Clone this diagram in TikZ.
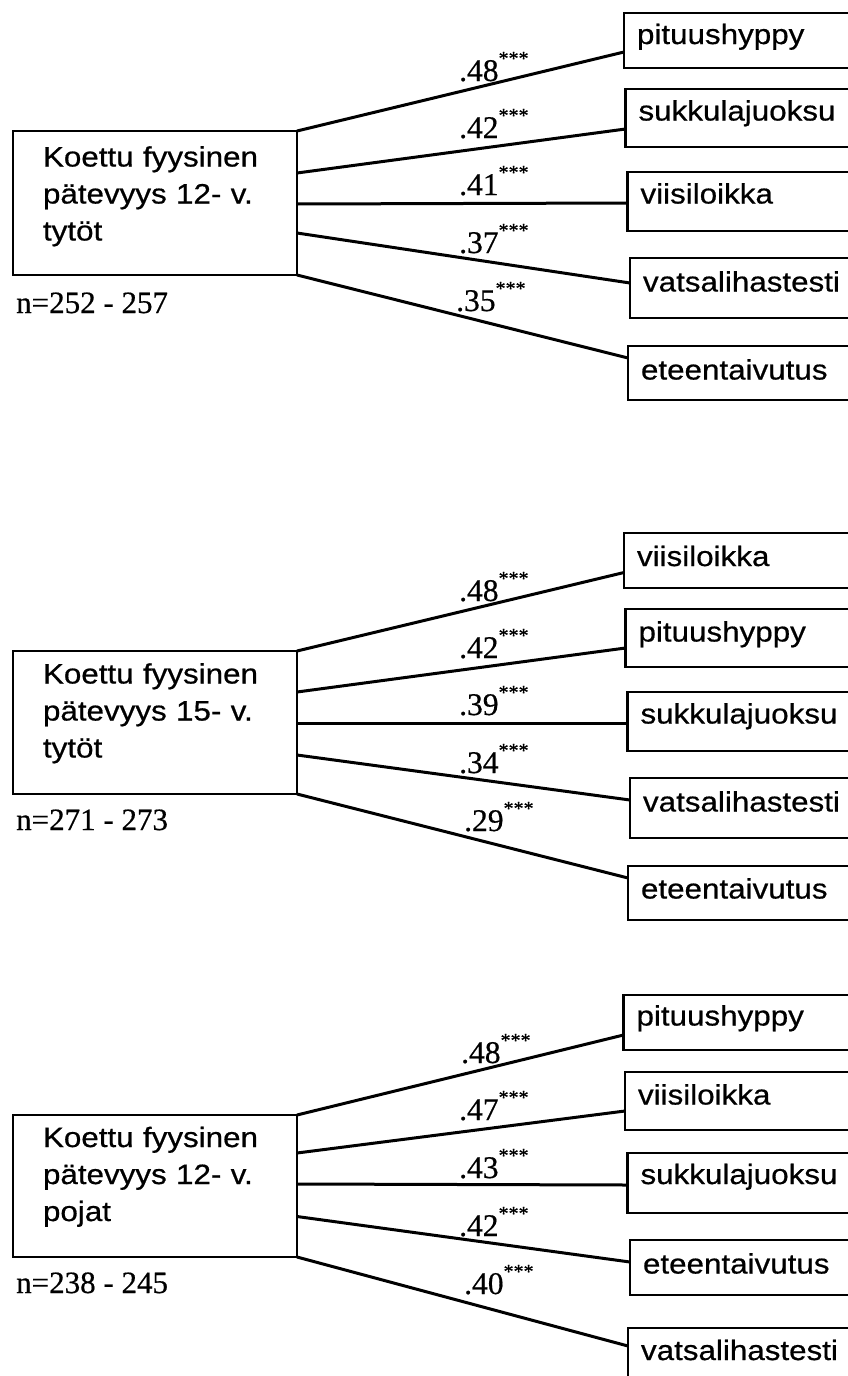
\documentclass[tikz,border=0pt]{standalone}
\usepackage{fontspec}
\newfontfamily\arialf[FakeStretch=1.12,FakeBold=0.6]{Liberation Sans}
\newfontfamily\timesf[FakeBold=0.5]{Liberation Serif}
\newcommand{\corrlab}[1]{#1\raisebox{16pt}{\fontsize{20}{20}\selectfont ***}}
\begin{document}
\begin{tikzpicture}[x=1pt,y=-1pt,
  conn/.style={line width=3pt},
  leftbox/.style={draw, line width=2.8pt, anchor=north west, outer sep=0pt, inner xsep=30pt, inner ysep=0pt, text width=224pt, align=left, font=\arialf\fontsize{28}{37}\selectfont},
  rbox/.style={draw, line width=2.8pt, anchor=north west, outer sep=0pt, inner xsep=13pt, inner ysep=0pt, text width=274pt, align=left, font=\arialf\fontsize{28}{34}\selectfont},
  corr/.style={anchor=base west, inner sep=0pt, font=\timesf\fontsize{31.5}{34}\selectfont},
  ntext/.style={anchor=base west, inner sep=0pt, font=\timesf\fontsize{31}{34}\selectfont}]
\clip (0,0) rectangle (848,1376);
\fill[white] (0,0) rectangle (848,1376);

% ---------- Group 1 ----------
\node[leftbox, text height=35.5pt, text depth=108.5pt] (A1) at (13,131) {Koettu fyysinen\\pätevyys 12- v.\\tytöt};
\node[ntext] (N1) at (16,313) {n=252 - 257};
\node[rbox, text height=31pt, text depth=24pt] (R11) at (624,13) {pituushyppy};
\node[rbox, text height=31.5pt, text depth=26.5pt] (R12) at (625.5,89) {sukkulajuoksu};
\node[rbox, text height=31.5pt, text depth=27.5pt] (R13) at (627.5,172) {viisiloikka};
\node[rbox, text height=33.5pt, text depth=26.5pt] (R14) at (630,258) {vatsalihastesti};
\node[rbox, text height=33.5pt, text depth=20.5pt] (R15) at (628,346) {eteentaivutus};
\draw[conn] (A1.north east) -- ([yshift=-39pt]R11.north west);
\draw[conn] ([yshift=-42pt]A1.north east) -- ([yshift=-40pt]R12.north west);
\draw[conn] ([yshift=-73pt]A1.north east) -- ([yshift=-31pt]R13.north west);
\draw[conn] ([yshift=-102pt]A1.north east) -- ([yshift=-25pt]R14.north west);
\draw[conn] (A1.south east) -- ([yshift=-12pt]R15.north west);
\node[corr] (c11) at (459,81) {\corrlab{.48}};
\node[corr] (c12) at (459,138) {\corrlab{.42}};
\node[corr] (c13) at (459,195) {\corrlab{.41}};
\node[corr] (c14) at (459,253) {\corrlab{.37}};
\node[corr] (c15) at (456,311) {\corrlab{.35}};

% ---------- Group 2 ----------
\node[leftbox, text height=32.5pt, text depth=110.5pt] (A2) at (13,651) {Koettu fyysinen\\pätevyys 15- v.\\tytöt};
\node[ntext] (N2) at (16,830) {n=271 - 273};
\node[rbox, text height=33pt, text depth=22pt] (R21) at (624,533) {viisiloikka};
\node[rbox, text height=32.5pt, text depth=25.5pt] (R22) at (625.5,609) {pituushyppy};
\node[rbox, text height=31.5pt, text depth=27.5pt] (R23) at (627.5,692) {sukkulajuoksu};
\node[rbox, text height=33.5pt, text depth=26.5pt] (R24) at (630,778) {vatsalihastesti};
\node[rbox, text height=32.5pt, text depth=21.5pt] (R25) at (628,866) {eteentaivutus};
\draw[conn] (A2.north east) -- ([yshift=-39.5pt]R21.north west);
\draw[conn] ([yshift=-41pt]A2.north east) -- ([yshift=-39pt]R22.north west);
\draw[conn] ([yshift=-72pt]A2.north east) -- ([yshift=-31pt]R23.north west);
\draw[conn] ([yshift=-104pt]A2.north east) -- ([yshift=-22pt]R24.north west);
\draw[conn] (A2.south east) -- ([yshift=-12pt]R25.north west);
\node[corr] (c21) at (459,601) {\corrlab{.48}};
\node[corr] (c22) at (459,658) {\corrlab{.42}};
\node[corr] (c23) at (459,715) {\corrlab{.39}};
\node[corr] (c24) at (459,773) {\corrlab{.34}};
\node[corr] (c25) at (464,831) {\corrlab{.29}};

% ---------- Group 3 ----------
\node[leftbox, text height=32pt, text depth=110pt] (A3) at (13,1115) {Koettu fyysinen\\pätevyys 12- v.\\pojat};
\node[ntext] (N3) at (16,1293) {n=238 - 245};
\node[rbox, text height=30.5pt, text depth=24.5pt] (R31) at (623.5,995) {pituushyppy};
\node[rbox, text height=32.5pt, text depth=25.5pt] (R32) at (625,1072) {viisiloikka};
\node[rbox, text height=31pt, text depth=29pt] (R33) at (627.5,1153) {sukkulajuoksu};
\node[rbox, text height=33.5pt, text depth=21.5pt] (R34) at (630,1240) {eteentaivutus};
\node[rbox, text height=32pt, text depth=22pt] (R35) at (628,1328) {vatsalihastesti};
\draw[conn] (A3.north east) -- ([yshift=-40pt]R31.north west);
\draw[conn] ([yshift=-38pt]A3.north east) -- ([yshift=-39pt]R32.north west);
\draw[conn] ([yshift=-69pt]A3.north east) -- ([yshift=-32pt]R33.north west);
\draw[conn] ([yshift=-101.5pt]A3.north east) -- ([yshift=-22pt]R34.north west);
\draw[conn] (A3.south east) -- ([yshift=-18pt]R35.north west);
\node[corr] (c31) at (461,1063) {\corrlab{.48}};
\node[corr] (c32) at (459,1120) {\corrlab{.47}};
\node[corr] (c33) at (459,1178) {\corrlab{.43}};
\node[corr] (c34) at (459,1236) {\corrlab{.42}};
\node[corr] (c35) at (464,1294) {\corrlab{.40}};
\end{tikzpicture}
\end{document}
